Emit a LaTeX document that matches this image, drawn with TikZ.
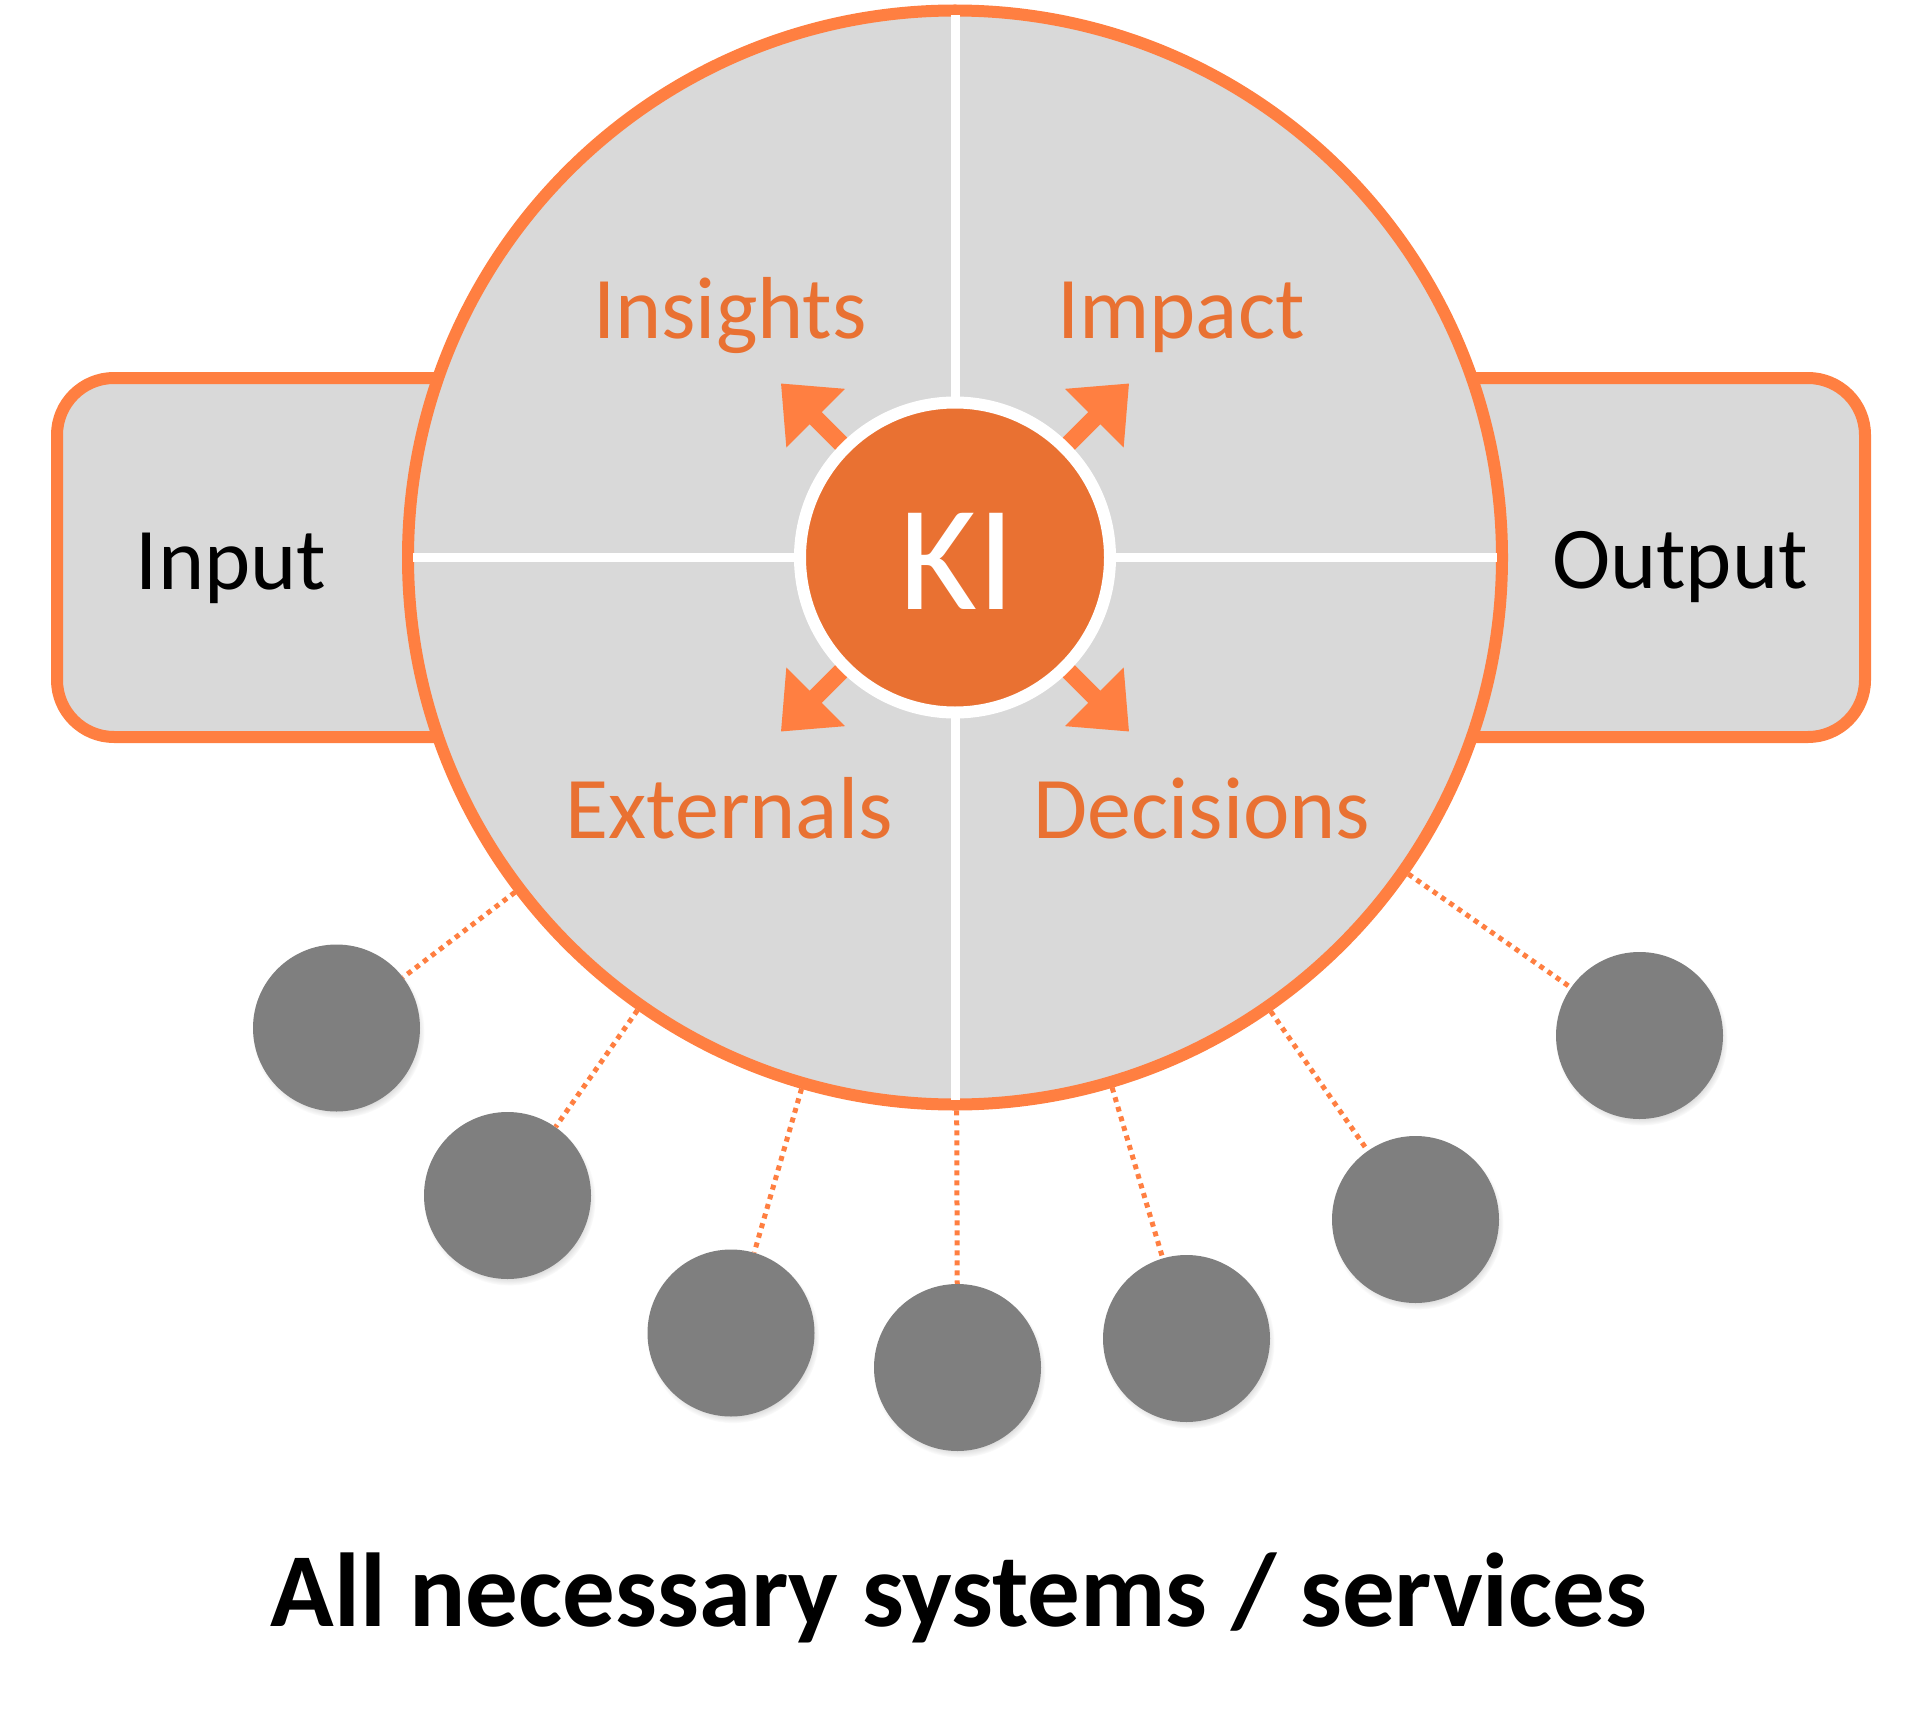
\documentclass[tikz,border=0pt]{standalone}
\usepackage{fontspec}
\setmainfont{Carlito}
\usetikzlibrary{shadows}
\definecolor{obor}{HTML}{FF7F41}
\definecolor{kior}{HTML}{E97132}
\definecolor{lgray}{HTML}{D9D9D9}
\definecolor{dgray}{HTML}{7F7F7F}
\tikzset{
  bigring/.style={circle, draw=obor, line width=12pt, fill=lgray, minimum size=1094pt, inner sep=0pt},
  kinode/.style={circle, draw=white, line width=12pt, fill=kior, minimum size=310pt, inner sep=0pt},
  sidebox/.style={draw=obor, fill=lgray, line width=12pt, rounded corners=57pt},
  crossline/.style={draw=white, line width=9pt},
  sysnode/.style={circle, fill=dgray, minimum size=167pt, inner sep=0pt,
     circular drop shadow={shadow xshift=2pt, shadow yshift=-4pt, shadow scale=1.03, opacity=0.45}},
  dotline/.style={draw=obor, line width=5pt, dash pattern=on 5pt off 5pt},
  lbl/.style={text=kior, font=\fontsize{88}{100}\selectfont, anchor=base, inner sep=0pt},
  boxlbl/.style={text=black, font=\fontsize{88}{100}\selectfont, anchor=base, inner sep=0pt},
  kiarrow/.style={fill=obor, draw=none}
}
\begin{document}
\begin{tikzpicture}[x=1pt,y=-1pt]
\useasboundingbox (0,0) rectangle (1920,1720);
% side boxes
\draw[sidebox] (57,378) rectangle (700,737);
\draw[sidebox] (1210,378) rectangle (1865,737);
% small system nodes
\node[sysnode] (s1) at (336.5,1028) {};
\node[sysnode] (s2) at (507.5,1195.5) {};
\node[sysnode] (s3) at (731,1333) {};
\node[sysnode] (s4) at (957.5,1367.5) {};
\node[sysnode] (s5) at (1186.5,1338.5) {};
\node[sysnode] (s6) at (1415.5,1219.5) {};
\node[sysnode] (s7) at (1639.5,1035.5) {};
% big circle
\node[bigring] (big) at (955,557.5) {};
% dotted connectors
\foreach \s in {s1,s2,s3,s4,s5,s6,s7}{
  \draw[dotline] (big) -- (\s);
}
% white cross
\draw[crossline] (413,557.5) -- (1497,557.5);
\draw[crossline] (955,15.5) -- (955,1099.5);
% arrows
\foreach \a in {45,135,225,315}{
  \fill[kiarrow, shift={(955,557.5)}, rotate=\a]
    (150,-8.5) -- (197,-8.5) -- (197,-41.5) -- (246,0) -- (197,41.5) -- (197,8.5) -- (150,8.5) -- cycle;
}
% KI
\node[kinode] (ki) at (955,557.5) {};
\node[anchor=base, inner sep=0pt, text=white, font=\fontsize{150}{170}\selectfont] (kitext) at (957,609) {KI};
% labels
\node[lbl] (insights) at (730,339) {Insights};
\node[lbl] (impact) at (1181,339) {Impact};
\node[lbl] (externals) at (729,838) {Externals};
\node[lbl] (decisions) at (1202,838) {Decisions};
\node[boxlbl] (input) at (231,589) {Input};
\node[boxlbl] (output) at (1680,588) {Output};
% title
\node[anchor=base, inner sep=0pt, font=\bfseries\fontsize{105}{120}\selectfont] (title) at (959,1626) {All necessary systems / services};
\end{tikzpicture}
\end{document}
